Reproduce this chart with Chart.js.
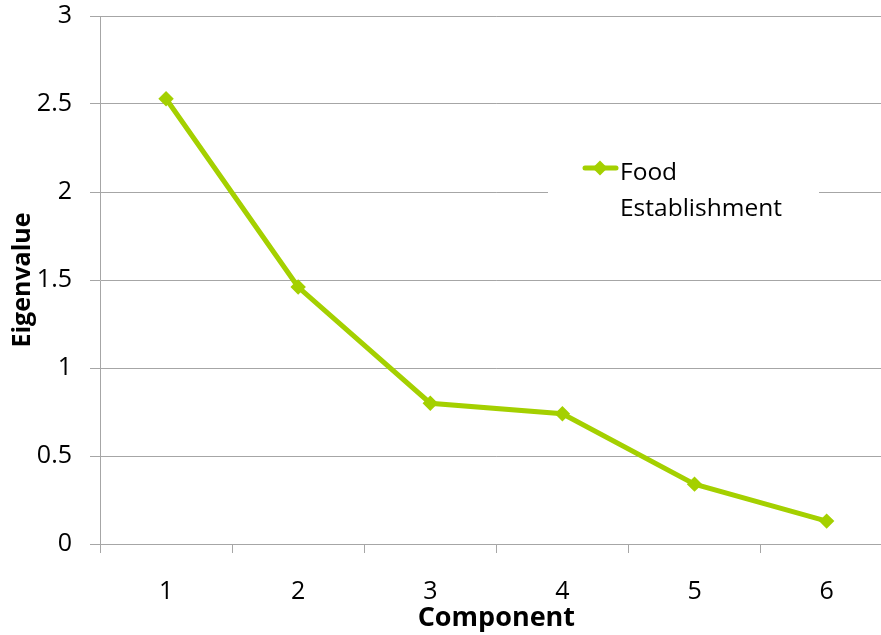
<!DOCTYPE html>
<html>
<head>
<meta charset="utf-8">
<script src="https://cdn.jsdelivr.net/npm/chart.js@4"></script>
<style>
  html, body { margin: 0; padding: 0; background: #fff; overflow: hidden; }
  #frame { width: 881px; height: 635px; overflow: hidden; position: relative; }
  #plot { width: 901px; height: 635px; }
  canvas { display: block; }
</style>
</head>
<body>
<div id="frame"><div id="plot"><canvas id="c" width="901" height="635"></canvas></div></div>
<script>
// Scree plot: eigenvalue per principal component
const components = ['1', '2', '3', '4', '5', '6'];
const eigenvalues = [2.53, 1.46, 0.80, 0.74, 0.34, 0.13];
const seriesName = 'Food Establishment';
const seriesLegendLines = ['Food', 'Establishment'];
const yMin = 0, yMax = 3, yStep = 0.5;

const LINE = '#a4d000';
const GRID = '#a6a6a6';
const FONT = '"Open Sans", "Noto Sans", sans-serif';

// In-plot legend with a white backing box that interrupts the gridline
const innerLegend = {
  id: 'innerLegend',
  afterDatasetsDraw(chart) {
    const ctx = chart.ctx;
    const mx = 600, my = 168;
    ctx.save();
    ctx.fillStyle = '#fff';
    ctx.fillRect(548, 150, 271, 80);
    ctx.strokeStyle = LINE;
    ctx.lineWidth = 5;
    ctx.lineCap = 'round';
    ctx.beginPath();
    ctx.moveTo(585, my);
    ctx.lineTo(616, my);
    ctx.stroke();
    ctx.fillStyle = LINE;
    ctx.beginPath();
    ctx.moveTo(mx - 7.5, my);
    ctx.lineTo(mx, my - 7.5);
    ctx.lineTo(mx + 7.5, my);
    ctx.lineTo(mx, my + 7.5);
    ctx.closePath();
    ctx.fill();
    ctx.fillStyle = '#000';
    ctx.font = '24.5px ' + FONT;
    ctx.textBaseline = 'alphabetic';
    ctx.textAlign = 'left';
    seriesLegendLines.forEach((t, i) => ctx.fillText(t, 620, 180 + i * 36));
    ctx.restore();
  }
};

new Chart(document.getElementById('c'), {
  type: 'line',
  data: {
    labels: components,
    datasets: [{
      label: seriesName,
      data: eigenvalues,
      borderColor: LINE,
      backgroundColor: LINE,
      borderWidth: 5,
      pointStyle: 'rectRot',
      pointRadius: 6.3,
      pointBorderWidth: 2,
      pointBorderColor: LINE,
      pointBackgroundColor: LINE,
      tension: 0
    }]
  },
  options: {
    responsive: false,
    animation: false,
    layout: { padding: { top: 16, right: 0, bottom: 0, left: 0 } },
    plugins: { legend: { display: false }, tooltip: { enabled: false } },
    scales: {
      x: {
        type: 'category',
        offset: true,
        grid: {
          offset: true,
          drawOnChartArea: false,
          drawTicks: true,
          tickLength: 9,
          color: GRID,
          lineWidth: 1
        },
        border: { display: true, color: GRID, width: 1 },
        ticks: { color: '#000', font: { family: FONT, size: 25 }, padding: 24, maxRotation: 0 },
        title: {
          display: true,
          text: 'Component',
          color: '#000',
          font: { family: FONT, size: 27, weight: 'bold' },
          padding: { top: 0, bottom: 0 }
        },
        afterFit(scale) {
          scale.height = 91;
          scale.paddingLeft = 0;
          scale.paddingRight = 0;
        }
      },
      y: {
        min: yMin,
        max: yMax,
        ticks: {
          stepSize: yStep,
          color: '#000',
          font: { family: FONT, size: 25 },
          padding: 18,
          callback: (v) => String(v)
        },
        grid: { color: GRID, lineWidth: 1, tickLength: 10, drawTicks: true },
        border: { display: true, color: GRID, width: 1 },
        title: {
          display: true,
          text: 'Eigenvalue',
          color: '#000',
          font: { family: FONT, size: 25, weight: 'bold' },
          padding: { top: 8, bottom: 0 }
        },
        afterFit(scale) {
          scale.width = 100;
          scale.paddingTop = 0;
          scale.paddingBottom = 0;
        }
      }
    }
  },
  plugins: [innerLegend]
});
</script>
</body>
</html>
